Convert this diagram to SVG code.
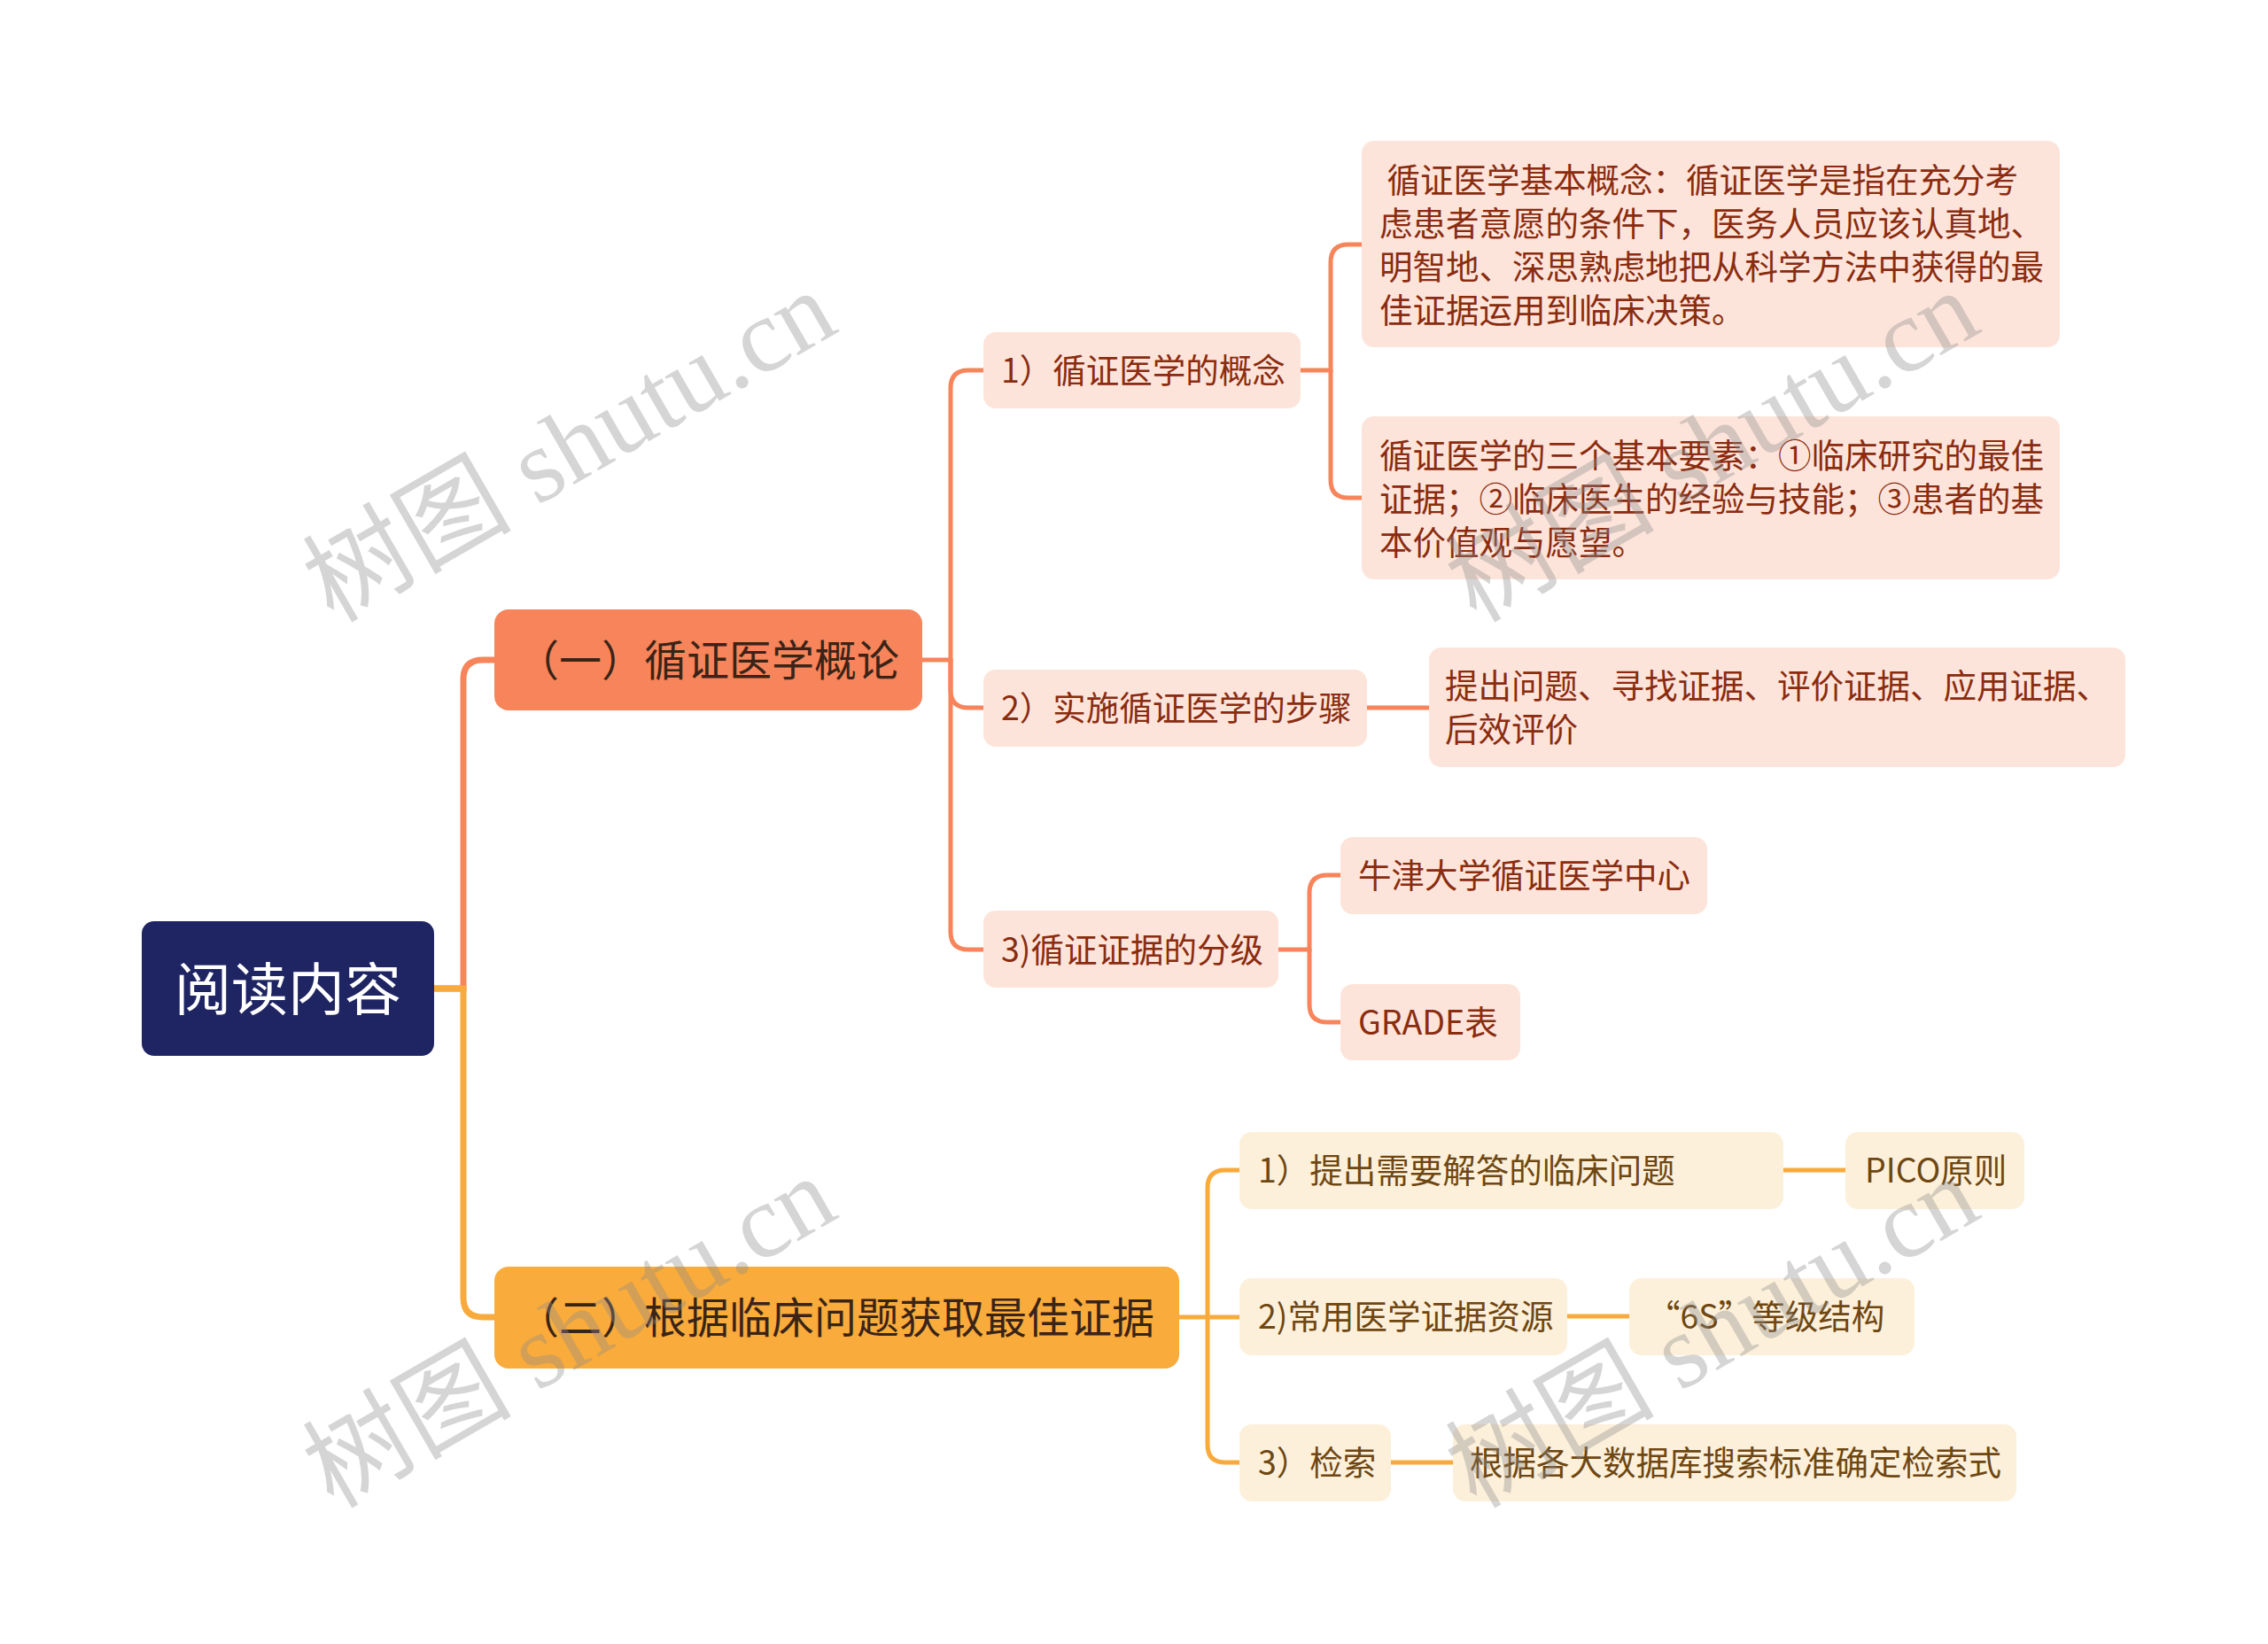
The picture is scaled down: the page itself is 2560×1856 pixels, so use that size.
<svg xmlns="http://www.w3.org/2000/svg" width="2560" height="1856" viewBox="0 0 2560 1856">
<style>
  text { font-family: "Noto Sans CJK SC", "Noto Sans", sans-serif; }
  .c1 { fill: none; stroke: #f7845a; stroke-width: 5; stroke-linecap: round; }
  .c2 { fill: none; stroke: #f8aa3c; stroke-width: 5; stroke-linecap: round; }
  .top { stroke-width: 7; }
  .b1 { fill: #f7845a; }
  .b2 { fill: #f9ab3b; }
  .bt { font-size: 48px; fill: #3a2418; }
  .p1 { fill: #fde4da; }
  .p2 { fill: #fdf0da; }
  .t1 { font-size: 37.5px; fill: #8a2c10; }
  .t2 { font-size: 37.5px; fill: #6e4712; }
  .wm { font-family: "Liberation Serif", "Noto Sans CJK SC", serif; font-size: 118px; fill: #8c8c8c; opacity: 0.36; }
</style>
<rect width="2560" height="1856" fill="#ffffff"/>

<g id="connectors">
  <path class="c1 top" d="M490,1116 H523 V767 Q523,745 545,745 H558"/>
  <path class="c2 top" d="M490,1116 H523 V1465 Q523,1487 545,1487 H558"/>
  <path class="c1" d="M1041,745 H1073 V438 Q1073,418 1093,418 H1110"/>
  <path class="c1" d="M1073,745 V779 Q1073,799 1093,799 H1110"/>
  <path class="c1" d="M1073,745 V1052 Q1073,1072 1093,1072 H1110"/>
  <path class="c1" d="M1468,418 H1502 V296 Q1502,276 1522,276 H1537"/>
  <path class="c1" d="M1502,418 V542 Q1502,562 1522,562 H1537"/>
  <path class="c1" d="M1543,799 H1613"/>
  <path class="c1" d="M1443,1072 H1478 V1008 Q1478,988 1498,988 H1513"/>
  <path class="c1" d="M1478,1072 V1134 Q1478,1154 1498,1154 H1513"/>
  <path class="c2" d="M1331,1487 H1363 V1341 Q1363,1321 1383,1321 H1399"/>
  <path class="c2" d="M1363,1487 H1399"/>
  <path class="c2" d="M1363,1487 V1631 Q1363,1651 1383,1651 H1399"/>
  <path class="c2" d="M2013,1321 H2083"/>
  <path class="c2" d="M1769,1486 H1839"/>
  <path class="c2" d="M1570,1651 H1640"/>
</g>

<g id="root">
  <rect x="160" y="1040" width="330" height="152" rx="14" fill="#1f2563"/>
  <text x="325" y="1140" text-anchor="middle" font-size="64" fill="#ffffff">阅读内容</text>
</g>

<g id="branch1">
  <rect class="b1" x="558" y="688" width="483" height="114" rx="16"/>
  <text class="bt" x="583" y="763">（一）循证医学概论</text>
</g>

<g id="branch2">
  <rect class="b2" x="558" y="1430" width="773" height="115" rx="16"/>
  <text class="bt" x="583" y="1505">（二）根据临床问题获取最佳证据</text>
</g>

<g id="n1-1">
  <rect class="p1" x="1110" y="375" width="358" height="86" rx="14"/>
  <text class="t1" x="1130" y="432">1）循证医学的概念</text>
</g>
<g id="leafA">
  <rect class="p1" x="1537" y="159" width="788" height="233" rx="14"/>
  <text class="t1" x="1557" y="217" style="white-space:pre"> 循证医学基本概念：循证医学是指在充分考</text>
  <text class="t1" x="1557" y="266">虑患者意愿的条件下，医务人员应该认真地、</text>
  <text class="t1" x="1557" y="315">明智地、深思熟虑地把从科学方法中获得的最</text>
  <text class="t1" x="1557" y="364">佳证据运用到临床决策。</text>
</g>
<g id="leafB">
  <rect class="p1" x="1537" y="470" width="788" height="184" rx="14"/>
  <text class="t1" x="1557" y="528">循证医学的三个基本要素：①临床研究的最佳</text>
  <text class="t1" x="1557" y="577">证据；②临床医生的经验与技能；③患者的基</text>
  <text class="t1" x="1557" y="626">本价值观与愿望。</text>
</g>

<g id="n1-2">
  <rect class="p1" x="1110" y="756" width="433" height="87" rx="14"/>
  <text class="t1" x="1130" y="813">2）实施循证医学的步骤</text>
</g>
<g id="leafC">
  <rect class="p1" x="1613" y="731" width="786" height="135" rx="14"/>
  <text class="t1" x="1631" y="788">提出问题、寻找证据、评价证据、应用证据、</text>
  <text class="t1" x="1631" y="837">后效评价</text>
</g>

<g id="n1-3">
  <rect class="p1" x="1110" y="1028" width="333" height="87" rx="14"/>
  <text class="t1" x="1130" y="1086">3)循证证据的分级</text>
</g>
<g id="leafD">
  <rect class="p1" x="1513" y="945" width="414" height="87" rx="14"/>
  <text class="t1" x="1533" y="1002">牛津大学循证医学中心</text>
</g>
<g id="leafE">
  <rect class="p1" x="1513" y="1111" width="203" height="86" rx="14"/>
  <text class="t1" x="1533" y="1168">GRADE表</text>
</g>

<g id="n2-1">
  <rect class="p2" x="1399" y="1278" width="614" height="87" rx="14"/>
  <text class="t2" x="1420" y="1335">1）提出需要解答的临床问题</text>
</g>
<g id="leafF">
  <rect class="p2" x="2083" y="1278" width="202" height="87" rx="14"/>
  <text class="t2" x="2105" y="1335">PICO原则</text>
</g>
<g id="n2-2">
  <rect class="p2" x="1399" y="1443" width="370" height="87" rx="14"/>
  <text class="t2" x="1420" y="1500">2)常用医学证据资源</text>
</g>
<g id="leafG">
  <rect class="p2" x="1839" y="1443" width="322" height="87" rx="14"/>
  <text class="t2" x="1859" y="1500">“6S”等级结构</text>
</g>
<g id="n2-3">
  <rect class="p2" x="1399" y="1608" width="171" height="87" rx="14"/>
  <text class="t2" x="1420" y="1665">3）检索</text>
</g>
<g id="leafH">
  <rect class="p2" x="1640" y="1608" width="636" height="87" rx="14"/>
  <text class="t2" x="1659" y="1665">根据各大数据库搜索标准确定检索式</text>
</g>

<g id="watermarks">
  <text class="wm" transform="translate(376,704) rotate(-30)">树图 shutu.cn</text>
  <text class="wm" transform="translate(1666,704) rotate(-30)">树图 shutu.cn</text>
  <text class="wm" transform="translate(376,1704) rotate(-30)">树图 shutu.cn</text>
  <text class="wm" transform="translate(1666,1704) rotate(-30)">树图 shutu.cn</text>
</g>
</svg>
